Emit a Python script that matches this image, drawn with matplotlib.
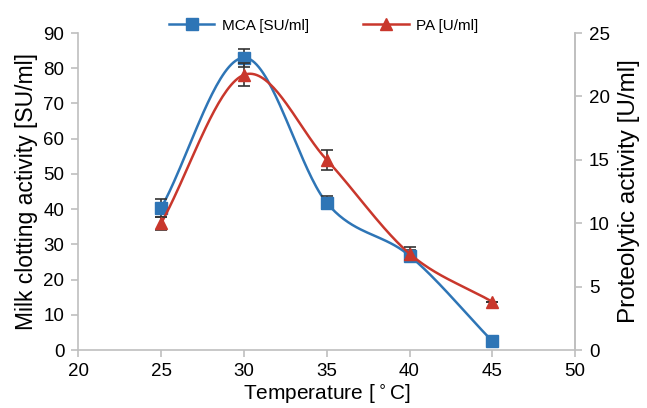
import matplotlib
matplotlib.use("Agg")
import matplotlib.pyplot as plt
import numpy as np

plt.rcParams["font.family"] = ["Liberation Sans", "DejaVu Sans"]

temperature = [25, 30, 35, 40, 45]
mca = [40.3, 83.0, 41.8, 26.8, 2.5]
mca_err = [2.5, 2.5, 1.8, 1.5, 0.0]
pa = [10.0, 21.7, 15.0, 7.6, 3.8]
pa_err = [0.5, 0.9, 0.8, 0.5, 0.0]

BLUE = "#2e75b6"
RED = "#c9372c"
GRAY = "#bfbfbf"


def smooth(x, y, n=40):
    # Catmull-Rom, ähnlich der Excel-Glättung
    x = np.asarray(x, float)
    y = np.asarray(y, float)
    px = np.concatenate([[2 * x[0] - x[1]], x, [2 * x[-1] - x[-2]]])
    py = np.concatenate([[2 * y[0] - y[1]], y, [2 * y[-1] - y[-2]]])
    xs, ys = [], []
    t = np.linspace(0, 1, n)
    for i in range(1, len(px) - 2):
        for p, out in ((px, xs), (py, ys)):
            p0, p1, p2, p3 = p[i - 1], p[i], p[i + 1], p[i + 2]
            out.extend(0.5 * ((2 * p1) + (-p0 + p2) * t
                              + (2 * p0 - 5 * p1 + 4 * p2 - p3) * t ** 2
                              + (-p0 + 3 * p1 - 3 * p2 + p3) * t ** 3))
    return xs, ys


fig, ax = plt.subplots(figsize=(6.47, 4.08), dpi=100)
fig.subplots_adjust(left=0.121, right=0.889, bottom=0.142, top=0.919)
ax2 = ax.twinx()

sx, sy = smooth(temperature, mca)
ax.plot(sx, sy, color=BLUE, lw=1.8, zorder=3)
ax.errorbar(temperature, mca, yerr=mca_err, fmt="none", ecolor="#333333",
            elinewidth=1.2, capsize=4, capthick=1.2, zorder=4)
ax.plot(temperature, mca, "s", color=BLUE, ms=8, zorder=5)

sx, sy = smooth(temperature, pa)
ax2.plot(sx, sy, color=RED, lw=1.8, zorder=3)
ax2.errorbar(temperature, pa, yerr=pa_err, fmt="none", ecolor="#333333",
             elinewidth=1.2, capsize=4, capthick=1.2, zorder=4)
ax2.plot(temperature, pa, "^", color=RED, ms=8, zorder=5)

ax.set_xlim(20, 50)
ax.set_ylim(0, 90)
ax2.set_ylim(0, 25)
ax.set_xticks(range(20, 51, 5))
ax.set_yticks(range(0, 91, 10))
ax2.set_yticks(range(0, 26, 5))

for a in (ax, ax2):
    a.spines["top"].set_visible(False)
    for s in ("left", "right", "bottom"):
        a.spines[s].set_color(GRAY)
        a.spines[s].set_linewidth(1.2)
    a.tick_params(colors=GRAY, labelcolor="black", labelsize=13.5, length=5,
                  width=1.2, pad=5)
ax2.spines["left"].set_visible(False)
ax2.spines["bottom"].set_visible(False)
ax.tick_params(axis="x", pad=4)

ax.set_xlabel("Temperature [$^\\circ$C]", fontsize=15, labelpad=2)
ax.set_ylabel("Milk clotting activity [SU/ml]", fontsize=16.5, labelpad=4)
ax2.set_ylabel("Proteolytic activity [U/ml]", fontsize=17.5, labelpad=6)

h1 = plt.Line2D([], [], color=BLUE, lw=1.8, marker="s", ms=8)
h2 = plt.Line2D([], [], color=RED, lw=1.8, marker="^", ms=8)
fig.legend([h1, h2], ["MCA [SU/ml]", "PA [U/ml]"], ncol=2, frameon=False,
           loc="center", bbox_to_anchor=(0.5, 0.937), fontsize=11,
           columnspacing=3.5, handlelength=3, handletextpad=0.5)

fig.savefig("out.png", dpi=100)
